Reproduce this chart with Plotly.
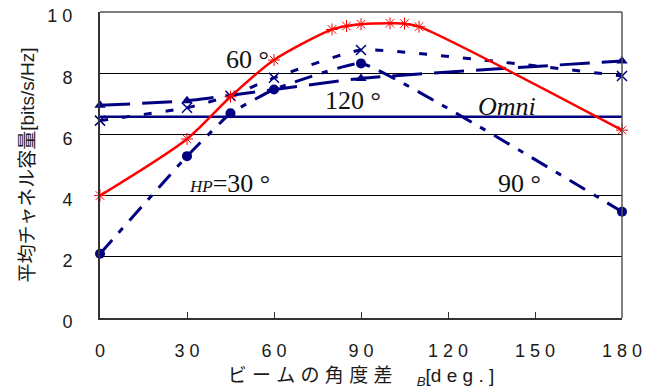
import plotly.graph_objects as go

# ---- data ----
x_hp30 = [0, 30, 45, 60, 80, 85, 90, 100, 105, 110, 180]
y_hp30 = [4.0, 5.85, 7.23, 8.43, 9.43, 9.54, 9.6, 9.63, 9.62, 9.52, 6.14]

x_hp60 = [0, 30, 45, 60, 90, 180]
y_hp60 = [6.45, 6.87, 7.26, 7.85, 8.76, 7.91]

x_hp120 = [0, 30, 90, 180]
y_hp120 = [6.95, 7.1, 7.83, 8.4]

x_hp90 = [0, 30, 45, 60, 90, 180]
y_hp90 = [2.1, 5.29, 6.69, 7.47, 8.32, 3.47]

x_omni = [0, 180]
y_omni = [6.58, 6.58]

x_tickvals = [0, 30, 60, 90, 120, 150, 180]
x_ticktext = ["0", "3 0", "6 0", "9 0", "1 2 0", "1 5 0", "1 8 0"]
y_tickvals = [0, 2, 4, 6, 8, 10]
y_ticktext = ["0", "2", "4", "6", "8", "1 0"]

NAVY = "#000080"
RED = "#ff0000"

fig = go.Figure()

fig.add_trace(go.Scatter(
    x=x_omni, y=y_omni, mode="lines",
    line=dict(color=NAVY, width=2.5), cliponaxis=False))

fig.add_trace(go.Scatter(
    x=x_hp120, y=y_hp120, mode="lines+markers",
    line=dict(color=NAVY, width=3, dash="30px,12px", shape="spline", smoothing=0.4),
    marker=dict(symbol="triangle-up", size=10, color=NAVY), cliponaxis=False))

fig.add_trace(go.Scatter(
    x=x_hp60, y=y_hp60, mode="lines+markers",
    line=dict(color=NAVY, width=3, dash="8px,14px", shape="spline", smoothing=0.35),
    marker=dict(symbol="x-thin-open", size=10, line=dict(color=NAVY, width=1.5)),
    cliponaxis=False))

fig.add_trace(go.Scatter(
    x=x_hp90, y=y_hp90, mode="lines+markers",
    line=dict(color=NAVY, width=3, dash="18px,10px,6px,10px", shape="spline", smoothing=0.3),
    marker=dict(symbol="circle", size=10, color=NAVY), cliponaxis=False))

fig.add_trace(go.Scatter(
    x=x_hp30, y=y_hp30, mode="lines+markers",
    line=dict(color=RED, width=2.5, shape="spline", smoothing=0.8),
    marker=dict(symbol="asterisk-open", size=10, line=dict(color=RED, width=1)),
    cliponaxis=False))

serif = "Liberation Serif, Times New Roman, serif"
ann_font = dict(family=serif, size=26, color="#111111")
annotations = [
    dict(x=51, y=8.46, text="60 °"),
    dict(x=87.4, y=7.12, text="120 °"),
    dict(x=140.4, y=6.9, text="<i>Omni</i>"),
    dict(x=144.7, y=4.4, text="90 °"),
    dict(x=44.7, y=4.4, text="<span style='font-size:17px'><i>HP</i></span>=30 °"),
]
for a in annotations:
    a.update(xref="x", yref="y", showarrow=False, font=ann_font)

sans = "Liberation Sans, Arial, Noto Sans CJK JP, sans-serif"

# page body has an 8px margin, so the figure is sized/offset to compensate
fig.update_layout(
    width=645, height=381,
    margin=dict(l=92, r=31, t=4, b=71),
    paper_bgcolor="white", plot_bgcolor="white",
    showlegend=False,
    font=dict(family=sans, size=18, color="#1a1a1a"),
    annotations=annotations,
    shapes=[
        dict(type="line", xref="paper", yref="paper", x0=0, x1=1, y0=1, y1=1,
             line=dict(color="black", width=1)),
        dict(type="line", xref="paper", yref="paper", x0=1, x1=1, y0=0, y1=1,
             line=dict(color="#555555", width=1.5)),
    ],
    xaxis=dict(
        range=[0, 180], tickvals=x_tickvals, ticktext=x_ticktext,
        automargin=False, ticklabeloverflow="allow",
        showgrid=False, zeroline=False,
        showline=True, linecolor="#333333", linewidth=2,
        ticks="inside", ticklen=6, tickcolor="#333333", tickwidth=1,
        ticklabelstandoff=15,
        title=dict(text="ビ ー ム の 角 度 差 　<sub><i>B</i></sub>[d e g . ]",
                   font=dict(family="Liberation Sans, Noto Sans CJK JP, sans-serif", size=19),
                   standoff=9),
    ),
    yaxis=dict(
        range=[0, 10], tickvals=y_tickvals, ticktext=y_ticktext,
        automargin=False, ticklabeloverflow="allow",
        showgrid=True, gridcolor="black", gridwidth=1,
        zeroline=False,
        showline=True, linecolor="#333333", linewidth=2,
        ticks="outside", ticklen=22, tickcolor="rgba(0,0,0,0)",
        ticklabelshift=4,
        title=dict(text="平均チャネル容量[bits/s/Hz]",
                   font=dict(family="Liberation Sans, Noto Sans CJK JP, sans-serif", size=19),
                   standoff=8),
    ),
)

fig.write_html("out.html")
